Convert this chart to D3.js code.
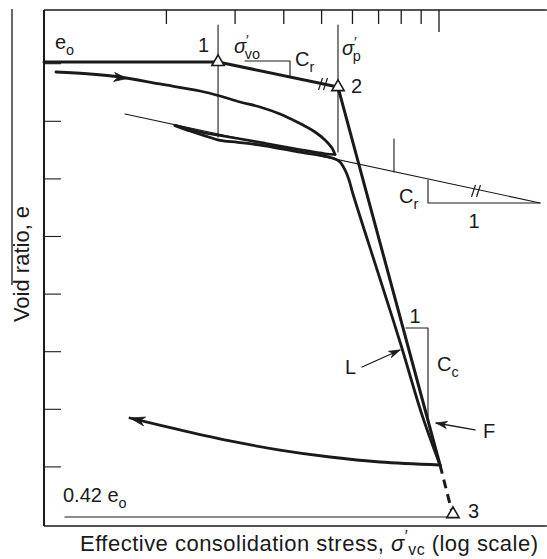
<!DOCTYPE html>
<html><head><meta charset="utf-8">
<script src="https://cdn.jsdelivr.net/npm/d3@7"></script>
<style>
body{margin:0;background:#fff}
svg{display:block}
text{font-family:"Liberation Sans",Arial,Helvetica,sans-serif;fill:#1a1a1a}
</style>
</head><body>
<svg id="c" width="547" height="559"></svg>
<script>
// ---------- data (stress on log scale, void ratio in tick units) ----------
const stressDomain = [0.971, 18.9];
const voidDomain = [-0.026, 8.932];
const topTicks = [2, 3, 4, 5, 6, 7, 8, 9, 10];
const decadeTick = 10;
const yTicks = [1, 2, 3, 4, 5, 6, 7, 8];

const fieldLine = [[0.971, 8.030], [2.713, 8.030], [5.508, 7.595], [10.06, 1.033]];
const fieldExtrapolated = [[10.06, 1.033], [10.80, 0.217]];
const labLoading = [[1.042, 7.856], [1.274, 7.821], [1.520, 7.769], [1.925, 7.648], [2.439, 7.526],
  [2.745, 7.439], [3.088, 7.335], [3.475, 7.248], [3.911, 7.127], [4.325, 6.988], [4.810, 6.814],
  [5.102, 6.675], [5.317, 6.536], [5.412, 6.424]];
const labUnloadLoop = [[2.104, 6.931], [2.299, 6.861], [2.512, 6.797], [2.745, 6.753], [3.052, 6.701],
  [3.580, 6.620], [4.351, 6.516], [5.102, 6.438], [5.412, 6.424]];
const labReload = [[2.104, 6.925], [2.299, 6.832], [2.512, 6.748], [2.745, 6.670], [3.052, 6.635],
  [3.580, 6.575], [4.351, 6.471], [5.102, 6.392], [5.412, 6.345], [5.574, 6.293], [5.741, 6.155],
  [5.879, 5.981], [6.018, 5.738], [7.060, 4.262], [7.989, 3.116], [9.047, 1.901], [10.06, 1.033]];
const labUnload = [[1.613, 1.849], [2.168, 1.641], [2.911, 1.450], [3.911, 1.293], [5.255, 1.172],
  [7.060, 1.085], [10.06, 1.033]];

const keyPoints = [["1", 2.713, 8.030], ["2", 5.508, 7.595], ["3", 10.86, 0.182]];
const recompressionLine = [[1.566, 7.127], [18.16, 5.582]];
const crTriangleUpper = [[3.181, 8.047], [4.149, 8.047], [4.149, 7.769]];
const crTriangleLower = [[9.371, 5.981], [9.371, 5.582], [18.16, 5.582]];
const ccTriangle = [[8.229, 3.411], [9.371, 3.411], [9.371, 1.866]];
const sigmaVoLine = [[2.713, 8.672], [2.713, 6.727]];
const sigmaPLine = [[5.508, 8.672], [5.508, 6.467]];
const crTick = [[7.666, 6.693], [7.666, 6.120]];
const finalLine = [[1.099, 0.130], [10.80, 0.130]];
const hashMarks = [[5.042, 7.648], [12.44, 5.790]];
const pointerL = [[6.348, 2.734], [7.943, 3.030]];
const pointerF = [[12.37, 1.641], [9.825, 1.762]];

// ---------- scales ----------
const svg = d3.select("#c");
const x = d3.scaleLog().domain([1, 10]).range([49, 439]);
const y = d3.scaleLinear().domain([0, 8]).range([524.5, 63.7]);
const P = d => [x(d[0]), y(d[1])];
const ink = "#1a1a1a";

const lineS = d3.line().x(d => x(d[0])).y(d => y(d[1]));
const curveS = d3.line().x(d => x(d[0])).y(d => y(d[1])).curve(d3.curveCatmullRom.alpha(0.5));

function draw(data, w, gen, extra) {
  const p = svg.append("path").attr("d", (gen || lineS)(data)).attr("fill", "none")
    .attr("stroke", ink).attr("stroke-width", w).attr("stroke-linejoin", "round").attr("stroke-linecap", "round");
  if (extra) extra(p);
  return p;
}

// stray scan border
svg.append("line").attr("x1", 12).attr("x2", 12).attr("y1", 9).attr("y2", 285)
  .attr("stroke", ink).attr("stroke-width", 1.3);

// ---------- frame ----------
const xL = x(stressDomain[0]), xR = x(stressDomain[1]);
const yT = y(voidDomain[1]), yB = y(voidDomain[0]);
svg.append("line").attr("x1", xL).attr("x2", xR).attr("y1", yT).attr("y2", yT).attr("stroke", ink).attr("stroke-width", 1.6);
svg.append("line").attr("x1", xL).attr("x2", xR).attr("y1", yB).attr("y2", yB).attr("stroke", ink).attr("stroke-width", 1.6);
svg.append("line").attr("x1", xL).attr("x2", xL).attr("y1", yT).attr("y2", yB).attr("stroke", ink).attr("stroke-width", 2);

topTicks.forEach(t => {
  svg.append("line").attr("x1", x(t)).attr("x2", x(t)).attr("y1", yT).attr("y2", yT + (t === decadeTick ? 22 : 14))
    .attr("stroke", ink).attr("stroke-width", 1.3);
});
yTicks.forEach(t => {
  svg.append("line").attr("x1", xL).attr("x2", xL + 17).attr("y1", y(t)).attr("y2", y(t))
    .attr("stroke", ink).attr("stroke-width", 1.1);
});

// ---------- thin construction lines ----------
draw(recompressionLine, 1.1);
draw(crTriangleUpper, 1.1);
draw(crTriangleLower, 1.1);
draw(ccTriangle, 1.1);
draw(sigmaVoLine, 1.1);
draw(sigmaPLine, 1.1);
draw(crTick, 1.1);
draw(finalLine, 1.2);

hashMarks.forEach(h => {
  const [cx, cy] = P(h);
  [-2.5, 2.5].forEach(o => {
    svg.append("line").attr("x1", cx + o - 2).attr("y1", cy + 6).attr("x2", cx + o + 2).attr("y2", cy - 6)
      .attr("stroke", ink).attr("stroke-width", 1.2);
  });
});

// ---------- curves ----------
draw(fieldLine, 3);
draw(fieldExtrapolated, 3, null, p => p.attr("stroke-dasharray", "9,6").attr("stroke-linecap", "butt"));
draw(labLoading, 2.8, curveS);
draw(labUnloadLoop, 2.6, curveS);
draw(labReload, 2.8, curveS);
draw(labUnload, 2.8, curveS);

// arrowheads
function arrowHead(tip, from, len, hw) {
  const dx = tip[0] - from[0], dy = tip[1] - from[1], L = Math.hypot(dx, dy);
  const ux = dx / L, uy = dy / L, nx = -uy, ny = ux;
  const bx = tip[0] - ux * len, by = tip[1] - uy * len;
  const mx = tip[0] - ux * len * 0.7, my = tip[1] - uy * len * 0.7;
  svg.append("path").attr("d", `M${tip[0]},${tip[1]}L${bx + nx * hw},${by + ny * hw}L${mx},${my}L${bx - nx * hw},${by - ny * hw}Z`)
    .attr("fill", ink).attr("stroke", ink).attr("stroke-width", 0.8).attr("stroke-linejoin", "round");
}
arrowHead(P([1.585, 7.743]), P(labLoading[1]), 13, 4.5);
arrowHead(P(labUnload[0]), P(labUnload[1]), 15, 4.5);
draw(pointerL, 1.3);
draw(pointerF, 1.3);
arrowHead(P(pointerL[1]), P(pointerL[0]), 11, 3.5);
arrowHead(P(pointerF[1]), P(pointerF[0]), 11, 3.5);

// key points
keyPoints.forEach(k => {
  svg.append("path").attr("d", d3.symbol(d3.symbolTriangle, 66)())
    .attr("transform", `translate(${x(k[1])},${y(k[2])})`)
    .attr("fill", "#fff").attr("stroke", ink).attr("stroke-width", 1.6);
});

// ---------- text ----------
function rich(px, py, parts, size, anchor, subShift) {
  const t = svg.append("text").attr("x", px).attr("y", py).attr("font-size", size)
    .attr("text-anchor", anchor || "start");
  let cur = 0;
  parts.forEach(p => {
    const shift = p.sub ? size * (subShift || 0.32) : p.sup ? -size * 0.42 : 0;
    const ts = t.append("tspan").text(p.t).attr("dy", shift - cur);
    if (p.sub || p.sup) ts.attr("font-size", size * 0.72);
    if (p.it) ts.attr("font-style", "italic");
    if (p.dx) ts.attr("dx", p.dx);
    cur = shift;
  });
  return t;
}
const fs = 20;
const labels = [
  [[1.036, 8.255], [{t: "e"}, {t: "o", sub: 1}], "start"],
  [[2.572, 8.203], [{t: "1"}], "end"],
  [[2.981, 8.186], [{t: "σ", it: 1}, {t: "′", sup: 1}, {t: "vo", sub: 1, dx: -4}], "start"],
  [[4.273, 7.960], [{t: "C"}, {t: "r", sub: 1}], "start"],
  [[5.641, 8.151], [{t: "σ", it: 1}, {t: "′", sup: 1}, {t: "p", sub: 1, dx: -4}], "start"],
  [[5.947, 7.491], [{t: "2"}], "start"],
  [[7.897, 5.582], [{t: "C"}, {t: "r", sub: 1}], "start"],
  [[12.30, 5.148], [{t: "1"}], "middle"],
  [[8.679, 3.498], [{t: "1"}], "middle"],
  [[9.883, 2.665], [{t: "C"}, {t: "c", sub: 1}], "start"],
  [[5.741, 2.613], [{t: "L"}], "start"],
  [[12.97, 1.502], [{t: "F"}], "start"],
  [[11.87, 0.113], [{t: "3"}], "start"],
  [[1.086, 0.391], [{t: "0.42 e"}, {t: "o", sub: 1}], "start"]
];
labels.forEach(l => rich(x(l[0][0]), y(l[0][1]), l[1], fs, l[2]));

// axis titles
rich(80, 551, [{t: "Effective consolidation stress, "}, {t: "σ", it: 1}, {t: "′", sup: 1},
  {t: "vc", sub: 1}, {t: " (log scale)"}], 22, "start", 0.2)
  .attr("textLength", 458).attr("lengthAdjust", "spacing");
svg.append("text").attr("transform", `translate(29,${(yT + yB) / 2 - 4}) rotate(-90)`)
  .attr("text-anchor", "middle").attr("font-size", 22).text("Void ratio, e");
</script>
</body></html>
